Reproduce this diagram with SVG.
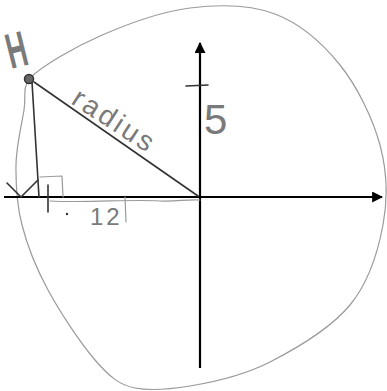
<svg xmlns="http://www.w3.org/2000/svg" width="387" height="391" viewBox="0 0 387 391">
<style>
.pencil{fill:none;stroke:#9a9a9a;stroke-width:1.2;stroke-linecap:round;stroke-linejoin:round}
.dark{fill:none;stroke:#333;stroke-width:1.6;stroke-linecap:round;stroke-linejoin:round}
.axis{fill:none;stroke:#000;stroke-width:2.2}
.hand{font-family:"Liberation Sans",Arial,sans-serif;fill:#7a7a7a}
</style>
<defs>
<marker id="arr" viewBox="0 0 10 10" refX="9" refY="5" markerWidth="5" markerHeight="5" orient="auto" markerUnits="strokeWidth">
<path d="M0,0 L10,5 L0,10 z" fill="#000"/>
</marker>
</defs>
<rect width="387" height="391" fill="#fff"/>
<g id="circle">
<path class="pencil" d="M30,78 C42.7,65.7 73.3,47.7 100,36 C126.7,24.3 160.8,11.7 190,8 C219.2,4.3 250,4.5 275,14 C300,23.5 322.5,43.2 340,65 C357.5,86.8 372.8,118.3 380,145 C387.2,171.7 388,198.3 383,225 C378,251.7 368.8,282.2 350,305 C331.2,327.8 296.7,348.3 270,362 C243.3,375.7 212.5,382.3 190,386 C167.5,389.7 150.8,391 135,388 C119.2,385 109.5,376.7 95,360 C80.5,343.3 60.2,312.5 48,290 C35.8,267.5 27.3,245.8 22,225 C16.7,204.2 15.7,184.2 16,165 C16.3,145.8 21.7,124.5 24,110 C26.3,95.5 22,88 30,78"/>
</g>
<g id="connectors">
<line class="axis" x1="4" y1="197" x2="382" y2="197" marker-end="url(#arr)"/>
<line class="axis" x1="200" y1="368" x2="200" y2="43" marker-end="url(#arr)"/>
<path class="pencil" d="M50,201 C90,203 130,199 160,201 C175,202 188,199 200,200"/>
</g>
<g id="ticks">
<line class="dark" x1="186" y1="86" x2="208" y2="85" stroke-width="2.2"/>
<line class="dark" x1="48" y1="185" x2="48" y2="212" stroke-width="2.2"/>
<circle cx="67" cy="214" r="1.2" fill="#333"/>
</g>
<g id="triangle">
<line class="dark" x1="32" y1="82" x2="39" y2="197"/>
<line class="dark" x1="34" y1="82" x2="198" y2="196" stroke="#666" stroke-width="1.1"/>
<path class="pencil" d="M40,177 L62,176 L63,197"/>
<path class="dark" d="M7,183 L21,197 L38,180" stroke="#666" stroke-width="1.1"/>
<path class="pencil" d="M125,197 L126,222"/>
</g>
<g id="point-H">
<circle cx="29" cy="79" r="4.5" fill="#666" stroke="#333" stroke-width="1.5"/>
<text class="hand" x="0" y="0" font-size="50" font-weight="bold" fill="#444" transform="translate(11,69) rotate(-14) scale(0.55,1)">H</text>
</g>
<g id="labels">
<text class="hand" font-size="28" letter-spacing="3" transform="translate(70,103) rotate(33)">radius</text>
<text class="hand" x="204" y="134" font-size="42" fill="#8a8a8a">5</text>
<text class="hand" x="90" y="225" font-size="24" letter-spacing="3">12</text>
</g>
</svg>
